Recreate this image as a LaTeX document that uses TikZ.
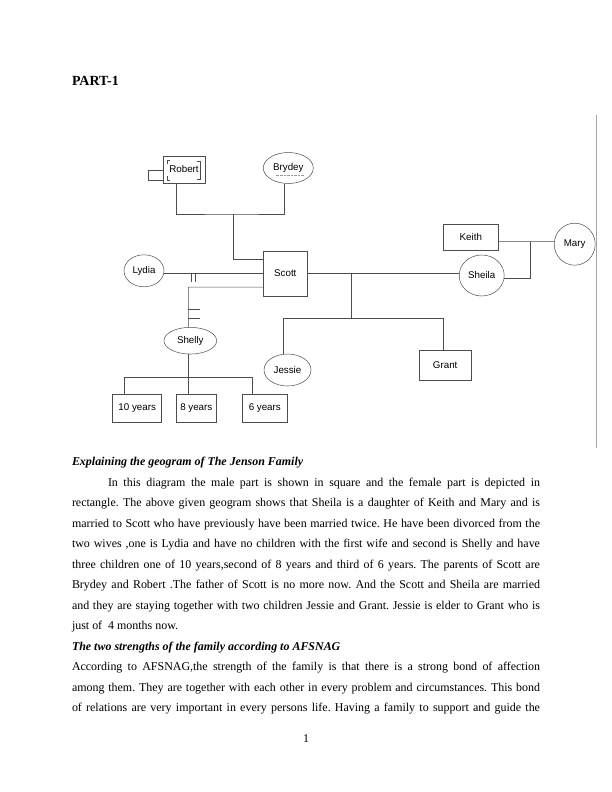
\documentclass[tikz,border=0pt]{standalone}
\usepackage{fontspec}
\setmainfont{Liberation Serif}
\newfontfamily\labelfont{Liberation Sans}
\usetikzlibrary{shapes.geometric}
\frenchspacing

\begin{document}
\begin{tikzpicture}[x=1bp,y=-1bp,
  every node/.style={inner sep=0pt,outer sep=0pt},
  person/.style={draw=black!70,line width=0.5bp,font=\labelfont\fontsize{9.8}{11}\selectfont},
  male/.style={person,rectangle},
  female/.style={person,ellipse},
  kin/.style={draw=black!70,line width=0.5bp},
  textline/.style={anchor=base west,font=\fontsize{12}{14}\selectfont}]
  \useasboundingbox (0,0) rectangle (612,792);
  % Heading
  \node[textline,font=\fontsize{14}{16}\selectfont\bfseries] (part) at (72,85) {PART-1};
  % People
  \node[male,minimum width=42bp,minimum height=27bp] (robert) at (184,169.5) {Robert};
  \node[female,minimum width=50bp,minimum height=31bp] (brydey) at (288.3,168) {Brydey};
  \node[male,minimum width=44bp,minimum height=45bp] (scott) at (285.3,273.5) {Scott};
  \node[female,minimum width=40bp,minimum height=32bp] (lydia) at (144,270.8) {Lydia};
  \node[female,minimum width=52.7bp,minimum height=26.7bp] (shelly) at (190.3,340.7) {Shelly};
  \node[male,minimum width=49bp,minimum height=28.7bp] (y10) at (137.2,408.3) {10 years};
  \node[male,minimum width=40.7bp,minimum height=28.7bp] (y8) at (196.3,408.3) {8 years};
  \node[male,minimum width=45bp,minimum height=28.7bp] (y6) at (264.8,408.3) {6 years};
  \node[female,minimum width=47bp,minimum height=32bp] (jessie) at (287.5,370) {Jessie};
  \node[male,minimum width=51.7bp,minimum height=30bp] (grant) at (445.2,365) {Grant};
  \node[male,minimum width=55bp,minimum height=26bp] (keith) at (470.8,237) {Keith};
  \node[female,minimum width=41bp,minimum height=42bp] (mary) at (574.7,244.2) {Mary};
  \node[female,minimum width=45bp,minimum height=41bp] (sheila) at (481.7,275.5) {Sheila};
  % Robert's extra marks
  \draw[kin] (163,170) -- (148.3,170) -- (148.3,180) -- (163,180);
  \draw[kin] (170,160) -- (167,160) -- (167,164) (167,176) -- (167,180) -- (170,180);
  \draw[kin] (197,161) -- (200,161) -- (200,179) -- (197,179);
  \draw[black!40,densely dotted,line width=0.4bp] (275.5,174.8) -- (303.5,174.8);
  % Robert and Brydey, parents of Scott
  \coordinate (pj) at (233.3,214);
  \draw[kin] ([xshift=-7.3bp]robert.south) |- (pj) -| ([xshift=-4bp]brydey.south);
  \draw[kin] (pj) |- ([yshift=14.2bp]scott.west);
  % Lydia, divorced
  \draw[kin] (scott.west) -- (scott.west -| lydia.east);
  \draw[kin] (191.7,273.5) -- (191.7,281.7) (195.2,273.5) -- (195.2,281.7);
  % Shelly, divorced
  \coordinate (sh) at (188.3,287);
  \draw[kin] ([yshift=-13.5bp]scott.west) -- (sh) -- (sh |- shelly.north);
  \draw[kin] (188.3,309.3) -- (200,309.3) (188.3,318.3) -- (200,318.3);
  % Children with Shelly
  \coordinate (kl) at (124.3,377.3);
  \coordinate (kj) at (188.3,377.3);
  \coordinate (kr) at (252.3,377.3);
  \draw[kin] (kj |- shelly.south) -- (kj);
  \draw[kin] (kl |- y10.north) -- (kl) -- (kr) -- (kr |- y6.north);
  \draw[kin] (kj) -- (kj |- y8.north);
  % Scott and Sheila, Jessie and Grant
  \draw[kin] (scott.east) -- (scott.east -| sheila.west);
  \coordinate (cj) at (351.7,318.3);
  \draw[kin] (cj |- scott.east) -- (cj);
  \draw[kin] ([xshift=-4.2bp]jessie.north) |- (cj) -| ([xshift=-1.9bp]grant.north);
  % Keith and Mary, parents of Sheila
  \coordinate (kmj) at (530.7,241.7);
  \draw[kin] ([yshift=-4.7bp]keith.east) -- (kmj) -- (kmj -| mary.west);
  \draw[kin] (kmj) |- ([yshift=-2.8bp]sheila.east);
  % Frame edge on the right
  \draw[black!35,line width=0.8bp] (596,115) -- (596,448);
  % Text below
  \node[textline,font=\fontsize{12}{14}\selectfont\bfseries\itshape] (head1) at (72,465.5) {Explaining the geogram of The Jenson Family};
  \node[textline] (l1) at (108,486) {\makebox[432bp][s]{In this diagram the male part is shown in square and the female part is depicted in}};
  \node[textline] (l2) at (72,506.5) {\makebox[468bp][s]{rectangle. The above given geogram shows that Sheila is a daughter of Keith and Mary and is}};
  \node[textline] (l3) at (72,527) {\makebox[468bp][s]{married to Scott who have previously have been married twice. He have been divorced from the}};
  \node[textline] (l4) at (72,547.5) {\makebox[468bp][s]{two wives ,one is Lydia and have no children with the first wife and second is Shelly and have}};
  \node[textline] (l5) at (72,568) {\makebox[468bp][s]{three children one of 10 years,second of 8 years and third of 6 years. The parents of Scott are}};
  \node[textline] (l6) at (72,588.5) {\makebox[468bp][s]{Brydey and Robert .The father of Scott is no more now. And the Scott and Sheila are married}};
  \node[textline] (l7) at (72,609) {\makebox[468bp][s]{and they are staying together with two children Jessie and Grant. Jessie is elder to Grant who is}};
  \node[textline] (l8) at (72,629.5) {just of\ \ 4 months now.};
  \node[textline,font=\fontsize{12}{14}\selectfont\bfseries\itshape] (head2) at (72,650) {The two strengths of the family according to AFSNAG};
  \node[textline] (l9) at (72,670.5) {\makebox[468bp][s]{According to AFSNAG,the strength of the family is that there is a strong bond of affection}};
  \node[textline] (l10) at (72,691) {\makebox[468bp][s]{among them. They are together with each other in every problem and circumstances. This bond}};
  \node[textline] (l11) at (72,711.5) {\makebox[468bp][s]{of relations are very important in every persons life. Having a family to support and guide the}};
  \node[textline,anchor=base] (pagenum) at (306,742) {1};
\end{tikzpicture}
\end{document}
